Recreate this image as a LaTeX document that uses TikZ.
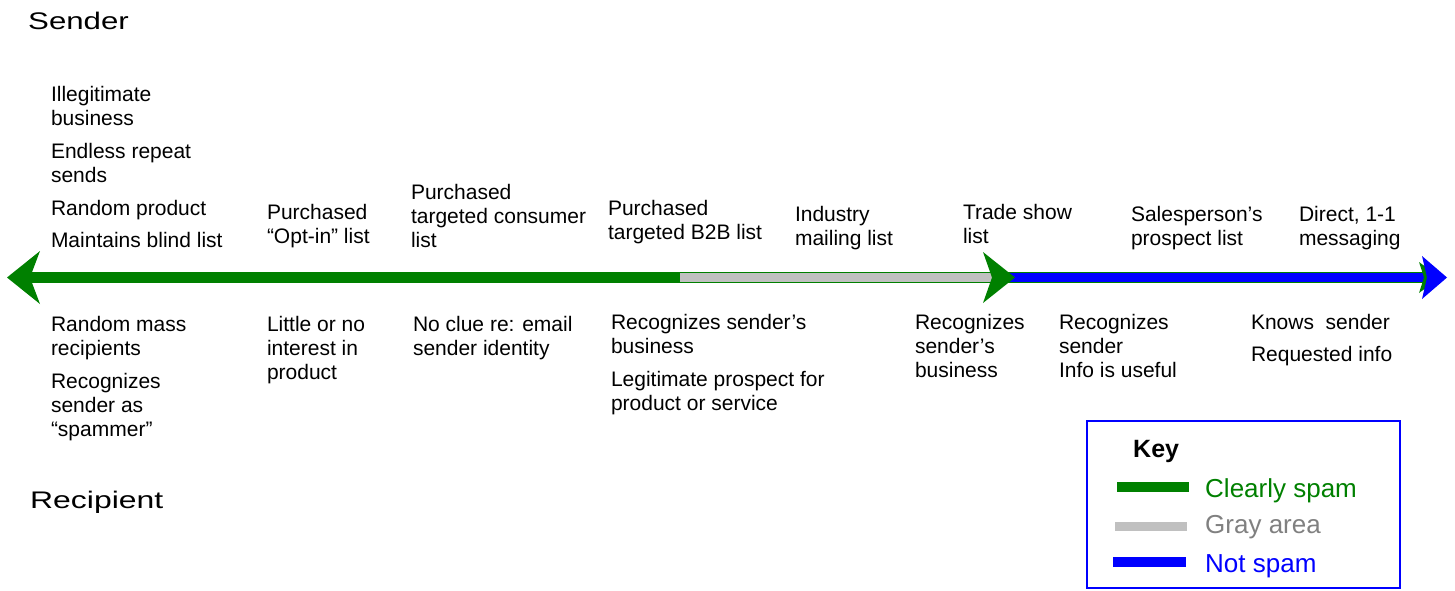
\documentclass[tikz,border=0pt]{standalone}
\usepackage{fontspec}
\setmainfont{Liberation Sans}
\definecolor{spamgreen}{RGB}{0,128,0}
\definecolor{grayarea}{RGB}{192,192,192}
\definecolor{grayText}{RGB}{128,128,128}
\definecolor{notspam}{RGB}{0,0,255}
\newcommand\bodyfont{\fontsize{21}{24}\selectfont}
\newcommand\sidefont{\fontsize{24}{28}\selectfont}
\newcommand\keyfont{\fontsize{26}{30}\selectfont}
\begin{document}
\begin{tikzpicture}[x=1pt,y=-1pt,
  % multi-line labels are placed by the baseline of their last line
  lbl/.style={anchor=base west,inner sep=0pt,outer sep=0pt,align=left,font=\bodyfont},
  side/.style={anchor=base west,inner sep=0pt,font=\sidefont},
  keytxt/.style={anchor=base west,inner sep=0pt,font=\keyfont},
  bar/.style={line width=#1,line cap=butt}]
\useasboundingbox (0,0) rectangle (1455,590);

% axis: green base bar, gray and blue segments on top
\draw[bar=11.5pt,spamgreen] (30,277.5) -- (1430,277.5);
\draw[bar=9pt,grayarea] (680,277.5) -- (998,277.5);
\draw[bar=9pt,notspam] (1000,277.5) -- (1426,277.5);

% arrow heads
\fill[spamgreen] (7,277.5) -- (40,251) -- (30,277.5) -- (40,304) -- cycle;
\fill[spamgreen] (1015,277.5) -- (983,252) -- (992,277.5) -- (983,303) -- cycle;
\fill[spamgreen] (1440,277.5) -- (1419,262) -- (1424,277.5) -- (1419,293) -- cycle;
\fill[notspam] (1447,277.5) -- (1422,256) -- (1427,277.5) -- (1422,299) -- cycle;

% side labels
\node[side] (sender) at (28,29) {\scalebox{1.3}[1]{Sender}};
\node[side] (recipient) at (30,508) {\scalebox{1.33}[1]{Recipient}};

% sender characteristics
\node[lbl] (s1) at (51,247) {Illegitimate\\business\\[9pt]Endless repeat\\sends\\[9pt]Random product\\[8pt]Maintains blind list};
\node[lbl] (s2) at (267,243) {Purchased\\“Opt-in” list};
\node[lbl] (s3) at (411,247) {Purchased\\targeted consumer\\list};
\node[lbl] (s4) at (608,239) {Purchased\\targeted B2B list};
\node[lbl] (s5) at (795,245) {Industry\\mailing list};
\node[lbl] (s6) at (963,243) {Trade show\\list};
\node[lbl] (s7) at (1131,245) {Salesperson’s\\prospect list};
\node[lbl] (s8) at (1299,245) {Direct, 1-1\\messaging};

% recipient characteristics
\node[lbl] (r1) at (51,436) {Random mass\\recipients\\[9pt]Recognizes\\sender as\\“spammer”};
\node[lbl] (r2) at (267,379) {Little or no\\interest in\\product};
\node[lbl] (r3) at (413,355) {No clue re: email\\sender identity};
\node[lbl] (r4) at (611,410) {Recognizes sender’s\\business\\[9pt]Legitimate prospect for\\product or service};
\node[lbl] (r5) at (915,377) {Recognizes\\sender’s\\business};
\node[lbl] (r6) at (1059,377) {Recognizes\\sender\\Info is useful};
\node[lbl] (r7) at (1251,361) {Knows\ \ sender\\[8pt]Requested info};

% key
\draw[notspam,line width=2pt] (1087,421) rectangle (1400,588);
\node[anchor=base west,inner sep=0pt,font=\fontsize{25}{30}\selectfont\bfseries] (keyhead) at (1133,457) {Key};
\draw[bar=10pt,spamgreen] (1117,487) -- (1189,487);
\draw[bar=9pt,grayarea] (1115,526) -- (1187,526);
\draw[bar=10pt,notspam] (1113,562) -- (1186,562);
\node[keytxt,text=spamgreen] (k1) at (1205,497) {Clearly spam};
\node[keytxt,text=grayText] (k2) at (1205,533) {Gray area};
\node[keytxt,text=notspam] (k3) at (1205,572) {Not spam};
\end{tikzpicture}
\end{document}
